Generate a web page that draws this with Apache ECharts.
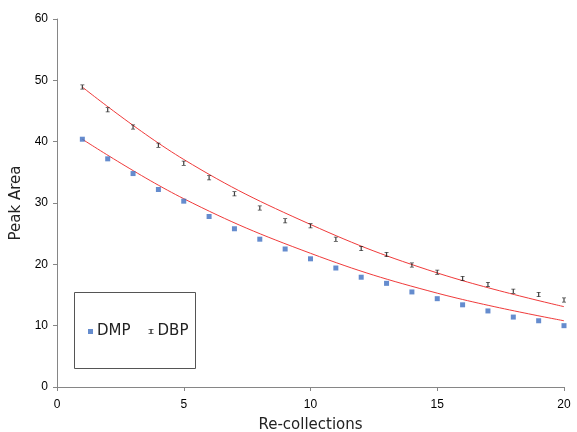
<!DOCTYPE html>
<html><head><meta charset="utf-8">
<script src="https://cdn.jsdelivr.net/npm/echarts@6/dist/echarts.min.js"></script>
<style>html,body{margin:0;padding:0;background:#fff;overflow:hidden}#c{width:577px;height:432px}</style>
</head><body><div id="c"></div>
<script>
const xs = [1,2,3,4,5,6,7,8,9,10,11,12,13,14,15,16,17,18,19,20];
const dmp = [40.4,37.2,34.8,32.2,30.3,27.8,25.8,24.1,22.5,20.9,19.4,17.9,16.9,15.5,14.4,13.4,12.4,11.4,10.8,10.0];
const dbp = [48.9,45.2,42.4,39.4,36.5,34.1,31.5,29.2,27.1,26.3,24.1,22.6,21.6,19.9,18.7,17.7,16.7,15.6,15.1,14.2];
// trendline values
const trendX = [1,5,10,15,20];
const dmpTrend = [40.4,30.7,21.8,15.3,10.8];
const dbpTrend = [48.9,37.1,26.5,18.6,13.1];
const xTicks = [0,5,10,15,20];
const yTicks = [0,10,20,30,40,50,60];

const xMark = 'path://M0,0L2,0L2,0.3L1.3,0.3L1.3,1.7L2,1.7L2,2L0,2L0,1.7L0.7,1.7L0.7,0.3L0,0.3Z';

const chart = echarts.init(document.getElementById('c'), null, {renderer:'canvas'});
chart.setOption({
  animation:false,
  backgroundColor:'#fff',
  grid:{left:57, right:13, top:19, bottom:45, containLabel:false, outerBoundsMode:'none'},
  xAxis:{type:'value', min:xTicks[0], max:xTicks[xTicks.length-1], interval:xTicks[1]-xTicks[0],
    name:'Re-collections', nameLocation:'middle', nameGap:31,
    nameTextStyle:{fontFamily:'DejaVu Sans', fontSize:15, color:'#222'},
    axisLine:{lineStyle:{color:'#868686'}}, axisTick:{show:true, length:4, lineStyle:{color:'#868686'}},
    splitLine:{show:false},
    axisLabel:{margin:12, fontFamily:'Liberation Sans', fontSize:12, color:'#000'}},
  yAxis:{type:'value', min:yTicks[0], max:yTicks[yTicks.length-1], interval:yTicks[1]-yTicks[0],
    name:'Peak Area', nameLocation:'middle', nameGap:29,
    nameTextStyle:{fontFamily:'DejaVu Sans', fontSize:15, color:'#222'},
    axisLine:{show:true, lineStyle:{color:'#868686'}}, axisTick:{show:true, length:4, lineStyle:{color:'#868686'}},
    splitLine:{show:false},
    axisLabel:{margin:9, fontFamily:'Liberation Sans', fontSize:12, color:'#000'}},
  legend:{data:[{name:'DMP', icon:'rect'},{name:'DBP', icon:xMark}],
    left:83, top:319, itemWidth:5, itemHeight:5, itemGap:18,
    textStyle:{fontFamily:'DejaVu Sans', fontSize:15, color:'#222', padding:[0,0,0,-1]}},
  graphic:[{type:'rect', shape:{x:74.5, y:292.5, width:121, height:76},
    style:{fill:'#fff', stroke:'#555', lineWidth:1}, z:-1}],
  series:[
    {name:'DMP trend', type:'line', data:trendX.map((x,i)=>[x,dmpTrend[i]]), showSymbol:false, smooth:0.4,
      lineStyle:{color:'#f03a3a', width:1}, silent:true, z:1},
    {name:'DBP trend', type:'line', data:trendX.map((x,i)=>[x,dbpTrend[i]]), showSymbol:false, smooth:0.4,
      lineStyle:{color:'#f03a3a', width:1}, silent:true, z:1},
    {name:'DMP', type:'scatter', data:xs.map((x,i)=>[x,dmp[i]]), symbol:'rect', symbolSize:5,
      itemStyle:{color:'#3f6fc2'}, z:3},
    {name:'DBP', type:'scatter', data:xs.map((x,i)=>[x,dbp[i]]), symbol:xMark, symbolSize:[4,5],
      itemStyle:{color:'#111'}, z:3}
  ]
});
</script></body></html>
